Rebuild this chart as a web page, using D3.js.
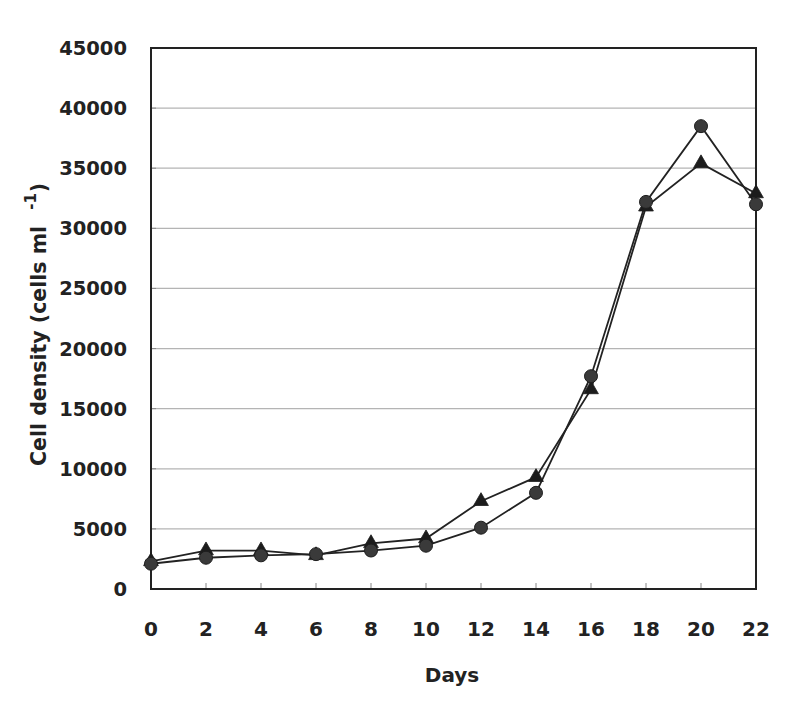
<!DOCTYPE html>
<html><head><meta charset="utf-8">
<script src="https://cdn.jsdelivr.net/npm/d3@7"></script>
<style>body{margin:0;background:#fff}svg{display:block}</style>
</head><body>
<svg id="c" width="800" height="707"></svg>
<script>
const days = [0,2,4,6,8,10,12,14,16,18,20,22];
const circleSeries = [2100,2600,2800,2900,3200,3600,5100,8000,17700,32200,38500,32000];
const triangleSeries = [2300,3200,3200,2800,3800,4200,7300,9300,16600,31800,35400,32900];
const yTicks = [0,5000,10000,15000,20000,25000,30000,35000,40000,45000];
const xTicks = [0,2,4,6,8,10,12,14,16,18,20,22];

const svg = d3.select('#c');
const L = 151, R = 756, T = 48, B = 589;
const x = d3.scaleLinear().domain([0,22]).range([L,R]);
const y = d3.scaleLinear().domain([0,45000]).range([B,T]);
const font = "'DejaVu Sans', sans-serif";

// gridlines
svg.append('g').selectAll('line').data(yTicks.filter(v=>v>0&&v<45000)).join('line')
  .attr('x1',L).attr('x2',R).attr('y1',d=>y(d)).attr('y2',d=>y(d))
  .attr('stroke','#b4b4b4').attr('stroke-width',1.2);

// inner ticks
svg.append('g').selectAll('line').data(xTicks.slice(1,-1)).join('line')
  .attr('x1',d=>x(d)).attr('x2',d=>x(d)).attr('y1',B).attr('y2',B-6)
  .attr('stroke','#888').attr('stroke-width',1);
svg.append('g').selectAll('line').data(yTicks.slice(1,-1)).join('line')
  .attr('x1',L).attr('x2',L+5).attr('y1',d=>y(d)).attr('y2',d=>y(d))
  .attr('stroke','#888').attr('stroke-width',1);

// frame
svg.append('rect').attr('x',L).attr('y',T).attr('width',R-L).attr('height',B-T)
  .attr('fill','none').attr('stroke','#222').attr('stroke-width',2);

// y tick labels
svg.append('g').selectAll('text').data(yTicks).join('text')
  .attr('x',127).attr('y',d=>y(d)).attr('dy','0.36em')
  .attr('text-anchor','end').attr('font-family',font).attr('font-weight','bold')
  .attr('font-size',19.5).attr('fill','#222').text(d=>d);

// x tick labels
svg.append('g').selectAll('text').data(xTicks).join('text')
  .attr('x',d=>x(d)).attr('y',636)
  .attr('text-anchor','middle').attr('font-family',font).attr('font-weight','bold')
  .attr('font-size',20).attr('fill','#222').text(d=>d);

// axis titles
svg.append('text').attr('x',452).attr('y',682).attr('text-anchor','middle')
  .attr('font-family',font).attr('font-weight','bold').attr('font-size',20)
  .attr('fill','#222').text('Days');

const yl = svg.append('text').attr('transform','translate(46,466) rotate(-90)')
  .attr('font-family',font).attr('font-weight','bold').attr('font-size',20.5)
  .attr('fill','#222');
yl.append('tspan').text('Cell density (cells ml ');
yl.append('tspan').attr('dx',9).attr('dy',-10).attr('font-size',15).text('-1');
yl.append('tspan').attr('dy',10).attr('dx',1).text(')');

// lines
const line = d3.line().x((d,i)=>x(days[i])).y(d=>y(d));
[triangleSeries, circleSeries].forEach(s=>{
  svg.append('path').datum(s).attr('d',line).attr('fill','none')
    .attr('stroke','#222').attr('stroke-width',1.8);
});

// markers
svg.append('g').selectAll('path').data(triangleSeries).join('path')
  .attr('transform',(d,i)=>`translate(${x(days[i])},${y(d)})`)
  .attr('d',d3.symbol().type(d3.symbolTriangle).size(95)())
  .attr('fill','#1c1c1c').attr('stroke','#1c1c1c').attr('stroke-width',0.8);
svg.append('g').selectAll('circle').data(circleSeries).join('circle')
  .attr('cx',(d,i)=>x(days[i])).attr('cy',d=>y(d)).attr('r',6.5)
  .attr('fill','#3a3a3a').attr('stroke','#1e1e1e').attr('stroke-width',1);
</script>
</body></html>
